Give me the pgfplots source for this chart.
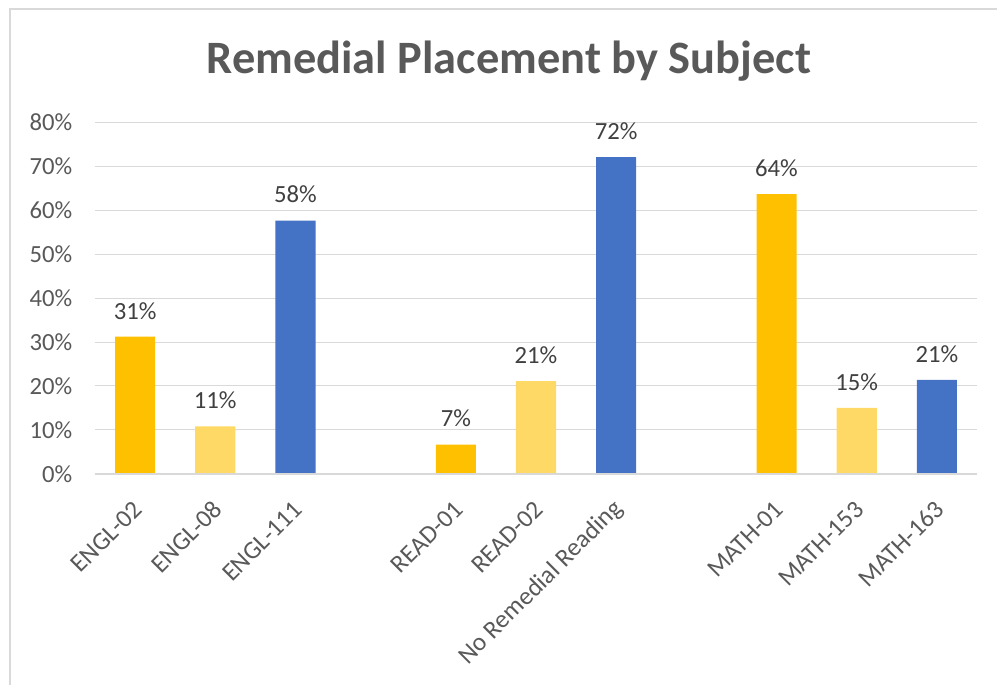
\documentclass[border=0pt]{standalone}
\usepackage{fontspec}
\setmainfont{Carlito}
\usepackage{pgfplots}
\pgfplotsset{compat=1.18}
\definecolor{dy}{HTML}{FFC000}
\definecolor{ly}{HTML}{FFD966}
\definecolor{bl}{HTML}{4472C4}
\definecolor{gridc}{HTML}{D9D9D9}
\definecolor{txt}{HTML}{595959}
\definecolor{lbl}{HTML}{404040}
\begin{document}
\begin{tikzpicture}
\useasboundingbox (0,0) rectangle (747.75pt,513.75pt);
\draw[gridc, line width=1pt] (7.5pt,0) -- (7.5pt,507pt) -- (747.75pt,507pt);
\node[txt, font=\bfseries\fontsize{34.8}{40}\selectfont] at (381.75pt,468pt) {Remedial Placement by Subject};
\begin{axis}[
  at={(71.25pt,158.25pt)}, anchor=south west,
  scale only axis, width=661.5pt, height=264pt,
  xmin=-0.5, xmax=10.5, ymin=0, ymax=80,
  ytick={0,10,...,80},
  yticklabel={\pgfmathprintnumber{\tick}\%},
  /pgf/number format/assume math mode=true,
  ymajorgrids, grid style={gridc, line width=0.75pt},
  axis line style={draw=none},
  major tick length=0pt,
  xtick={0,1,2,4,5,6,8,9,10},
  xticklabels={ENGL-02,ENGL-08,ENGL-111,READ-01,READ-02,No Remedial Reading,MATH-01,MATH-153,MATH-163},
  xticklabel style={xshift=4.5pt, yshift=-21pt, rotate=45, anchor=east, font=\fontsize{19}{22}\selectfont, text=txt},
  yticklabel style={font=\fontsize{18.5}{22}\selectfont, text=txt, xshift=-13.5pt},
  ybar, bar width=0.5, bar shift=0pt,
  nodes near coords={\pgfmathprintnumber[fixed,precision=0]{\pgfplotspointmeta}\%},
  every node near coord/.append style={font=\fontsize{18.5}{22}\selectfont, text=lbl, yshift=9.5pt},
  clip=false,
]
\addplot[fill=dy, draw=none] coordinates {(0,31.2) (4,6.7) (8,63.6)};
\addplot[fill=ly, draw=none] coordinates {(1,10.8) (5,21.1) (9,15.0)};
\addplot[fill=bl, draw=none] coordinates {(2,57.6) (6,72.0) (10,21.4)};
\draw[gridc, line width=1.2pt] (axis cs:-0.5,0) -- (axis cs:10.5,0);
\end{axis}
\end{tikzpicture}
\end{document}
